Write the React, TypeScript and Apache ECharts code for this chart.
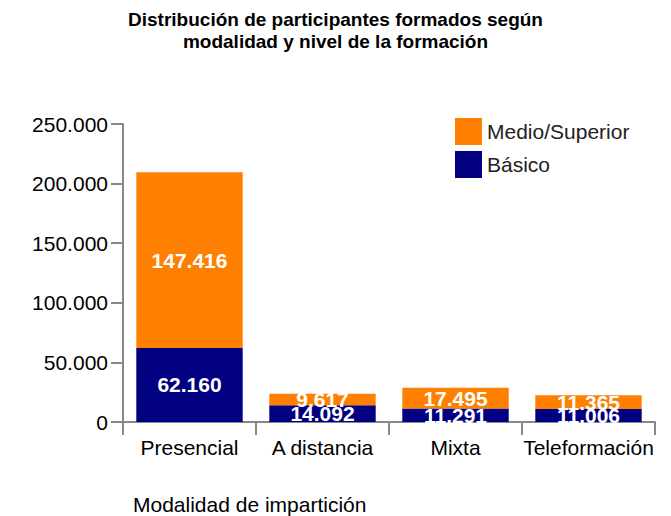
import React, { useEffect, useRef } from "react";
import * as echarts from "echarts";

const categories = ["Presencial", "A distancia", "Mixta", "Teleformación"];
const basico = [62160, 14092, 11291, 11006];
const medioSuperior = [147416, 9617, 17495, 11365];
const titleText = "Distribución de participantes formados según\nmodalidad y nivel de la formación";
const xAxisName = "Modalidad de impartición";

const fmt = (v: number) => String(Math.round(v)).replace(/\B(?=(\d{3})+(?!\d))/g, ".");

export default function App() {
  const ref = useRef<HTMLDivElement>(null);
  useEffect(() => {
    if (!ref.current) return;
    const chart = echarts.init(ref.current, undefined, { renderer: "svg" });
    const font = "Liberation Sans, Arial, sans-serif";
    const labelStyle = {
      show: true,
      position: "inside",
      color: "#fff",
      fontSize: 21,
      fontWeight: "bold",
      fontFamily: font,
      formatter: (p: any) => fmt(p.value),
    };
    chart.setOption({
      animation: false,
      textStyle: { fontFamily: font },
      title: {
        text: titleText,
        left: "center",
        top: 3,
        textStyle: { fontSize: 19, fontWeight: "bold", color: "#000", lineHeight: 22, fontFamily: font },
      },
      legend: {
        orient: "vertical",
        left: 450,
        top: 113,
        itemWidth: 27,
        itemHeight: 27,
        itemGap: 6,
        icon: "rect",
        data: ["Medio/Superior", "Básico"],
        textStyle: { fontSize: 21, color: "#222", fontFamily: font },
      },
      grid: { left: 123, right: 16, top: 124, bottom: 94 },
      xAxis: {
        type: "category",
        data: categories,
        axisLine: { lineStyle: { color: "#888", width: 2 } },
        axisTick: { show: true, length: 13, lineStyle: { color: "#888", width: 2 } },
        axisLabel: { fontSize: 21, color: "#000", margin: 15, interval: 0, fontFamily: font },
      },
      yAxis: {
        type: "value",
        min: 0,
        max: 250000,
        interval: 50000,
        splitLine: { show: false },
        axisLine: { show: true, lineStyle: { color: "#888", width: 2 } },
        axisTick: { show: true, length: 12, lineStyle: { color: "#888", width: 2 } },
        axisLabel: { fontSize: 21, color: "#000", margin: 15, formatter: (v: number) => fmt(v), fontFamily: font },
      },
      graphic: [
        {
          type: "text",
          left: 133,
          top: 494,
          style: { text: xAxisName, fontSize: 21, fill: "#000", fontFamily: font },
        },
      ],
      series: [
        {
          name: "Básico",
          type: "bar",
          stack: "total",
          barWidth: "80%",
          data: basico,
          itemStyle: { color: "#000080" },
          label: labelStyle,
        },
        {
          name: "Medio/Superior",
          type: "bar",
          stack: "total",
          barWidth: "80%",
          data: medioSuperior,
          itemStyle: { color: "#FF8000" },
          label: labelStyle,
        },
      ],
    });
    return () => chart.dispose();
  }, []);
  return <div ref={ref} style={{ width: 671, height: 516, position: "absolute", left: 0, top: 0 }} />;
}
